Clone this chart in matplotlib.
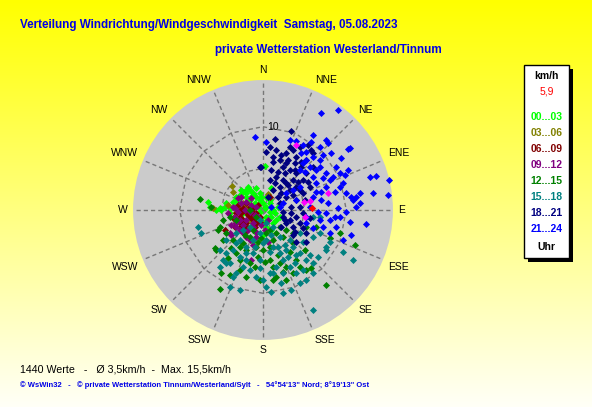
import numpy as np
import matplotlib
matplotlib.use('Agg')
import matplotlib.pyplot as plt
from matplotlib.patches import Circle, Rectangle, Polygon

plt.rcParams['font.family'] = ['Liberation Sans', 'DejaVu Sans']

# ---- data ---------------------------------------------------------------
directions = ['N', 'NNE', 'NE', 'ENE', 'E', 'ESE', 'SE', 'SSE',
              'S', 'SSW', 'SW', 'WSW', 'W', 'WNW', 'NW', 'NNW']
hour_labels = ['00...03', '03...06', '06...09', '09...12',
               '12...15', '15...18', '18...21', '21...24']
hour_colors = ['#00ff00', '#808000', '#800000', '#800080',
               '#008000', '#008080', '#000080', '#0000ff']

# wind vectors (east, north) in km/h, per 3-hour block
pts_00_03 = [(-6.6, 1.0), (-6.4, 0.4), (-5.2, 0.2), (-5.0, 0.0), (-4.0, -0.4), (-3.4, 0.4),
             (-3.2, 1.2), (-2.8, 1.8), (-2.4, 2.2), (-2.0, 2.4), (-1.6, 2.4), (-1.2, 2.0),
             (-0.8, 1.6), (-0.4, 1.2), (0.0, 0.8), (0.4, 0.4), (0.8, 0.8), (1.0, 2.6),
             (0.2, 5.3), (1.2, 0.0), (1.0, -0.8), (1.2, -1.6), (0.4, -2.0), (-0.8, -2.8),
             (-1.2, -3.8), (-2.0, 2.0), (-1.6, 1.2), (-1.0, 0.8), (-0.6, 0.4), (-0.4, -0.2),
             (-2.8, 0.8), (-3.2, 1.6), (-2.4, -0.4), (-4.4, 0.8), (-5.6, 0.0), (-4.0, 0.2),
             (0.4, -0.8), (-0.2, 1.6), (0.2, 0.2), (-1.4, 1.6), (-2.0, 1.6), (-1.2, 1.8),
             (-0.4, 2.0), (0.4, 1.6), (0.8, 1.2), (-2.6, 2.4), (-1.8, 2.8), (-0.8, 2.6),
             (1.4, -0.4), (0.8, -0.2), (-0.2, -1.0), (1.6, -1.2), (0.2, -1.4), (-0.8, -1.6),
             (1.0, -2.4), (0.0, -3.0), (-3.6, 1.0), (-4.6, 0.4), (2.0, -0.8), (1.8, 0.4)]
pts_03_06 = [(-3.7, 2.9), (-3.6, 2.2), (-4.2, 0.6), (-6.0, 0.3), (0.6, 1.9), (-2.8, -0.8),
             (-2.0, 0.4), (-1.2, -0.4), (-3.2, -0.2), (-1.6, -1.2), (-2.4, 0.8)]
pts_06_09 = [(-3.2, -0.4), (-2.8, -0.8), (-2.4, -1.2), (-2.0, -1.6), (-1.6, -0.8), (-1.2, -0.4),
             (-2.8, 0.0), (-2.4, 0.2), (-2.0, -0.2), (-1.6, 0.4), (-1.2, -1.2), (-0.8, -1.6),
             (-3.2, -1.6), (-2.8, -2.0), (-3.6, -1.0), (-4.6, -2.4), (0.9, 1.6), (-0.4, -0.8),
             (-2.2, -2.0), (-1.8, -2.2), (-1.0, -2.0), (-2.0, 0.8), (-1.2, 0.2), (-0.8, -0.4),
             (-2.6, -0.4), (-3.0, 0.6), (-1.4, -2.0), (-2.2, -2.6), (-0.4, -1.4), (-1.8, -0.6),
             (-2.8, -1.4), (-0.6, 0.6), (-3.4, -2.0)]
pts_09_12 = [(-3.0, 1.4), (-3.4, -0.8), (-3.2, -1.6), (-2.8, -2.4), (-2.4, -2.8), (-1.6, -3.6),
             (-1.2, -2.0), (-0.8, -3.2), (-3.6, 0.4), (-2.6, 0.8), (-2.0, 1.0), (-1.4, 1.4),
             (-0.8, 0.4), (-0.6, -0.8), (-4.0, -2.8), (-3.8, -1.8), (-4.2, -0.4), (-1.4, -6.0),
             (0.6, -3.8), (-3.2, -2.0), (-2.8, -1.2), (-2.0, -1.2), (-1.2, -1.6), (-3.8, -3.0),
             (-2.2, 0.0), (-1.6, -0.2), (-2.4, -1.8), (-1.0, -0.6), (-3.0, -0.2), (-0.8, -2.6),
             (-2.0, -3.2), (-1.4, 0.6), (-0.2, -1.8), (-3.4, 0.2), (-2.6, 1.6), (-1.8, -2.4),
             (0.2, -2.4), (-1.2, -4.2), (0.6, -1.2)]
pts_12_15 = [(-7.6, 1.3), (-6.3, 0.4), (-5.4, -2.4), (-5.8, -4.6), (-5.6, -4.8), (-5.0, -7.6),
             (-5.2, -9.5), (-4.0, -7.8), (-3.2, -5.2), (-2.8, -4.4), (-2.4, -4.0), (-1.6, -3.2),
             (-0.8, -4.4), (0.0, -4.8), (0.8, -6.0), (1.2, -6.8), (1.6, -8.0), (2.0, -6.4),
             (2.8, -8.4), (3.6, -7.6), (4.4, -6.8), (5.2, -7.2), (5.8, -7.0), (7.6, -9.0),
             (8.0, -3.4), (9.2, -2.8), (11.0, -4.2), (-0.6, -5.6), (-1.6, -6.4), (-2.8, -6.0),
             (-3.6, -3.6), (-4.4, -2.8), (-5.2, -2.0), (-4.8, -1.2), (-4.0, -0.8), (-3.2, -1.2),
             (-1.6, 0.0), (-0.8, -0.8), (0.8, -2.4), (1.6, -2.8), (2.4, -3.2), (2.8, -2.4),
             (2.0, -2.0), (0.4, -2.8), (1.2, -3.6), (2.8, -6.8), (4.0, -6.0), (-0.4, -8.4),
             (1.2, -8.4), (-2.0, -8.0), (-2.8, -7.2), (-4.8, -3.6), (3.6, -2.8), (5.2, -2.0),
             (6.4, -2.0), (-0.6, -3.8), (-0.2, -3.4), (0.8, -4.4), (1.8, -5.4), (3.2, -5.0),
             (-1.2, -2.4), (-2.2, -3.0), (-3.8, -4.6), (-4.2, -5.8), (-2.0, -4.8), (2.4, -7.4),
             (3.6, -4.0), (5.0, -4.8), (0.2, -6.2), (-1.0, -6.8)]
pts_15_18 = [(-7.8, -2.0), (-7.4, -2.8), (-4.4, -3.6), (-5.2, -4.8), (-4.8, -6.0), (-4.0, -6.4),
             (-2.8, -5.6), (-3.6, -4.8), (-2.0, -4.4), (-1.2, -3.6), (-0.4, -2.8), (0.4, -3.6),
             (1.2, -4.4), (2.0, -5.2), (2.8, -4.8), (3.6, -4.4), (4.4, -5.2), (5.2, -6.0),
             (6.0, -6.4), (4.8, -7.2), (4.0, -7.6), (3.2, -6.8), (2.4, -6.0), (1.6, -6.8),
             (0.8, -7.6), (0.0, -8.4), (-0.8, -8.0), (-1.6, -7.2), (-2.4, -6.8), (-2.8, -9.6),
             (0.4, -9.2), (1.0, -9.8), (2.4, -10.0), (3.4, -9.6), (4.4, -8.8), (5.2, -8.4),
             (6.0, -7.6), (6.0, -12.0), (2.4, -7.6), (-0.4, -6.0), (-1.2, -5.2), (-2.0, -6.0),
             (-3.2, -7.6), (-3.6, -8.0), (-4.0, -9.2), (7.6, -4.4), (6.8, -2.8), (6.0, -3.2),
             (6.0, -0.8), (6.8, -0.8), (7.6, -4.8), (4.4, -2.8), (3.2, -3.6), (2.0, -3.2),
             (1.2, -2.0), (0.4, -1.6), (-0.4, -1.2), (-1.6, -2.0), (-2.4, -2.4), (-3.2, -2.8),
             (-2.8, -3.6), (-4.4, -5.2), (-5.2, -6.8), (8.0, -3.8), (9.6, -5.0), (10.8, -6.0),
             (0.8, -5.0), (1.8, -4.4), (3.0, -5.6), (4.0, -5.4), (-1.0, -4.4), (-2.0, -5.2),
             (-0.4, -7.0), (1.2, -7.6), (2.2, -8.8), (3.8, -6.4), (5.6, -5.4), (6.6, -5.6),
             (-4.4, -6.4), (-3.2, -4.0), (0.0, -4.0), (1.0, -3.0), (2.6, -4.2), (4.8, -3.8)]
pts_18_21 = [(3.4, 9.5), (1.4, 8.5), (0.4, 7.0), (-0.2, 5.2), (1.2, 6.4), (2.0, 6.0),
             (2.8, 6.8), (3.6, 7.2), (4.4, 7.6), (2.4, 5.2), (3.2, 4.8), (4.0, 4.4),
             (1.6, 4.0), (2.4, 3.6), (3.6, 3.6), (4.8, 3.6), (2.0, 2.8), (3.2, 2.4),
             (4.4, 2.4), (5.6, 2.8), (2.8, 1.6), (4.0, 1.2), (5.0, 1.2), (2.4, -0.8),
             (3.2, -1.2), (4.0, -0.8), (4.8, -0.4), (4.4, -1.6), (3.6, -2.0), (2.8, -1.6),
             (5.2, -2.8), (4.0, -3.8), (5.2, -3.8), (0.6, 1.6), (2.0, 0.8), (1.2, 2.4),
             (5.2, 6.0), (6.0, 5.2), (3.4, 0.4), (4.4, 0.4), (0.8, 7.6), (1.6, 7.2),
             (-0.4, 5.2), (1.0, 4.8), (3.0, 6.0), (3.8, 5.6), (4.6, 5.2), (5.2, 4.4),
             (6.0, 6.8), (5.4, 7.8), (2.8, 3.2), (4.0, 2.8), (1.8, 1.6), (3.4, -0.4),
             (2.2, -2.0), (3.6, -3.0), (2.4, -0.2), (1.2, 5.8), (2.2, 6.6), (3.2, 7.6),
             (2.6, 4.4), (3.8, 4.8), (1.4, 3.2), (2.2, 2.0), (3.6, 1.8), (4.8, 2.0),
             (5.4, 3.4), (3.0, 3.0), (4.2, 3.4), (2.8, 5.6), (4.0, 6.4), (1.8, 4.6),
             (5.6, -1.0), (3.8, -2.6), (4.8, -2.2), (2.6, -1.2), (0.8, 3.6), (4.6, 5.8),
             (5.8, 7.2)]
pts_21_24 = [(7.0, 11.7), (9.0, 12.0), (-1.0, 8.8), (0.4, 8.2), (4.0, 8.3), (4.8, 7.8),
             (6.0, 9.0), (7.6, 8.4), (7.8, 8.1), (10.4, 7.5), (10.2, 7.3), (9.4, 6.2),
             (10.2, 4.8), (12.9, 4.0), (13.6, 4.1), (15.1, 3.6), (13.2, 2.1), (15.0, 1.8),
             (12.4, -1.7), (10.6, -3.0), (9.6, -3.6), (8.0, -2.8), (8.8, -2.0), (9.2, -0.8),
             (10.0, -0.2), (10.8, 1.2), (11.2, 1.6), (9.2, 2.8), (9.6, 3.2), (8.0, 3.6),
             (8.4, 4.0), (7.6, 4.4), (6.8, 6.0), (6.0, 6.4), (5.2, 6.0), (4.8, 5.6),
             (4.4, 4.8), (6.0, 4.0), (6.4, 2.2), (7.0, 1.2), (6.0, 1.6), (4.0, 1.2),
             (2.4, 0.8), (2.0, 0.4), (7.6, -0.4), (8.0, -1.2), (6.8, -1.2), (5.2, -1.6),
             (6.0, -2.2), (4.4, 2.8), (3.6, 2.4), (2.8, 2.0), (8.8, 5.2), (9.2, 4.4),
             (6.8, 7.6), (5.2, 7.0), (6.4, 4.8), (7.6, 2.8), (5.6, 0.4), (11.2, 0.4),
             (10.0, 2.0), (11.6, 0.8), (8.6, -0.8), (5.2, -0.8), (1.0, 0.4), (5.6, 5.2),
             (6.8, 5.2), (7.2, 6.6), (5.8, 8.2), (6.4, 3.2), (7.2, 3.8), (8.6, 2.2),
             (7.0, 2.2), (4.6, 6.8), (5.0, 4.6), (8.2, 6.8), (9.8, 4.2), (10.6, 1.6),
             (11.6, 2.0), (9.0, 0.2), (7.2, -2.0), (3.2, 8.4), (6.6, -0.2), (10.4, -1.4),
             (7.8, 0.8)]
hour_points = [pts_00_03, pts_03_06, pts_06_09, pts_09_12,
               pts_12_15, pts_15_18, pts_18_21, pts_21_24]

# magenta marks and the resulting mean vector (red)
hourly_means = [(4.0, 7.8), (4.9, 1.0), (5.6, 1.1), (5.1, -0.9), (7.8, 2.1)]
mean_vector = (5.9, 0.2)
mean_label = '5,9'

n_values = 1440
avg_speed = '3,5'
max_speed = '15,5'
rmax = 15.6
rings = [5, 10]

# ---- figure --------------------------------------------------------------
W, H = 592, 407
fig = plt.figure(figsize=(W / 100, H / 100), dpi=100)

# yellow -> pale background gradient
bg = fig.add_axes([0, 0, 1, 1])
t = np.linspace(0, 1, 256)
grad = np.zeros((256, 1, 3))
grad[:, 0, 0] = 1
grad[:, 0, 1] = 1
grad[:, 0, 2] = t * 0.97
bg.imshow(grad, aspect='auto', extent=[0, 1, 0, 1], origin='upper')
bg.axis('off')


def px(x, y):
    return x / W, 1 - y / H


# polar area drawn on an equal cartesian axes, 1 km/h = 8.33 px
cx, cy, half = 263, 210, 150
ax = fig.add_axes([(cx - half) / W, (H - cy - half) / H, 2 * half / W, 2 * half / H])
lim = half / 8.33
ax.set_xlim(-lim, lim)
ax.set_ylim(-lim, lim)
ax.axis('off')

ax.add_patch(Circle((0, 0), rmax, fc='#cbcbcb', ec='none', zorder=0))

ang = np.deg2rad(np.arange(16) * 22.5)
grid_kw = dict(color='#777777', lw=1.0, ls=(0, (3, 2.2)), zorder=1)
for a in ang:
    ax.plot([0, rmax * np.sin(a)], [0, rmax * np.cos(a)], **grid_kw)
for r in rings:
    poly = np.column_stack([r * np.sin(ang), r * np.cos(ang)])
    ax.add_patch(Polygon(poly, closed=True, fill=False, ec='#777777', lw=1.0,
                         ls=(0, (3, 2.2)), zorder=1))
ax.text(0.5, 10.0, '10', ha='left', va='center', fontsize=7.5, zorder=2)

lab_r = 16.2
for name, a in zip(directions, ang):
    s, c = np.sin(a), np.cos(a)
    ha = 'center' if abs(s) < 1e-6 else ('left' if s > 0 else 'right')
    va = 'center' if abs(c) < 1e-6 else ('bottom' if c > 0 else 'top')
    ax.text(lab_r * s, lab_r * c, name, ha=ha, va=va, fontsize=7.5, clip_on=False)

for pts, col in zip(hour_points, hour_colors):
    p = np.array(pts)
    ax.scatter(p[:, 0], p[:, 1], marker='D', s=13, c=col, linewidths=0, zorder=3)
hm = np.array(hourly_means)
ax.scatter(hm[:, 0], hm[:, 1], marker='D', s=13, c='#ff00ff', linewidths=0, zorder=4)
ax.scatter([mean_vector[0]], [mean_vector[1]], marker='D', s=14, c='#ff0000',
           linewidths=0, zorder=5)

# ---- titles ---------------------------------------------------------------
fig.text(*px(20, 25), 'Verteilung Windrichtung/Windgeschwindigkeit  Samstag, 05.08.2023',
         color='#0000e6', fontsize=8.4, fontweight='bold', va='center')
fig.text(*px(215, 50), 'private Wetterstation Westerland/Tinnum',
         color='#0000e6', fontsize=8.4, fontweight='bold', va='center')

fig.text(*px(20, 369), f'{n_values} Werte   -   Ø {avg_speed}km/h  -  Max. {max_speed}km/h',
         fontsize=7.7, va='center')
fig.text(*px(20, 385), '© WsWin32   -   © private Wetterstation Tinnum/Westerland/Sylt'
         '   -   54°54\'13" Nord; 8°19\'13" Ost',
         color='#0000e6', fontsize=5.5, fontweight='bold', va='center')

# ---- legend box -------------------------------------------------------------
bx0, by0, bx1, by1 = 524, 65, 569, 258
fig.patches.append(Rectangle(px(bx0 + 4, by1 + 4), (bx1 - bx0) / W, (by1 - by0) / H,
                             transform=fig.transFigure, fc='black', ec='none'))
fig.patches.append(Rectangle(px(bx0, by1), (bx1 - bx0) / W, (by1 - by0) / H,
                             transform=fig.transFigure, fc='white', ec='black', lw=1))
lx = (bx0 + bx1) / 2
fig.text(*px(lx, 76), 'km/h', ha='center', va='center', fontsize=7.5, fontweight='bold')
fig.text(*px(lx, 92), mean_label, ha='center', va='center', fontsize=7.5, color='#ff0000')
for i, (lab, col) in enumerate(zip(hour_labels, hour_colors)):
    fig.text(*px(lx, 117 + 16 * i), lab, ha='center', va='center', fontsize=7.5,
             fontweight='bold', color=col)
fig.text(*px(lx, 247), 'Uhr', ha='center', va='center', fontsize=7.5, fontweight='bold')

fig.savefig('out.png', dpi=100)
